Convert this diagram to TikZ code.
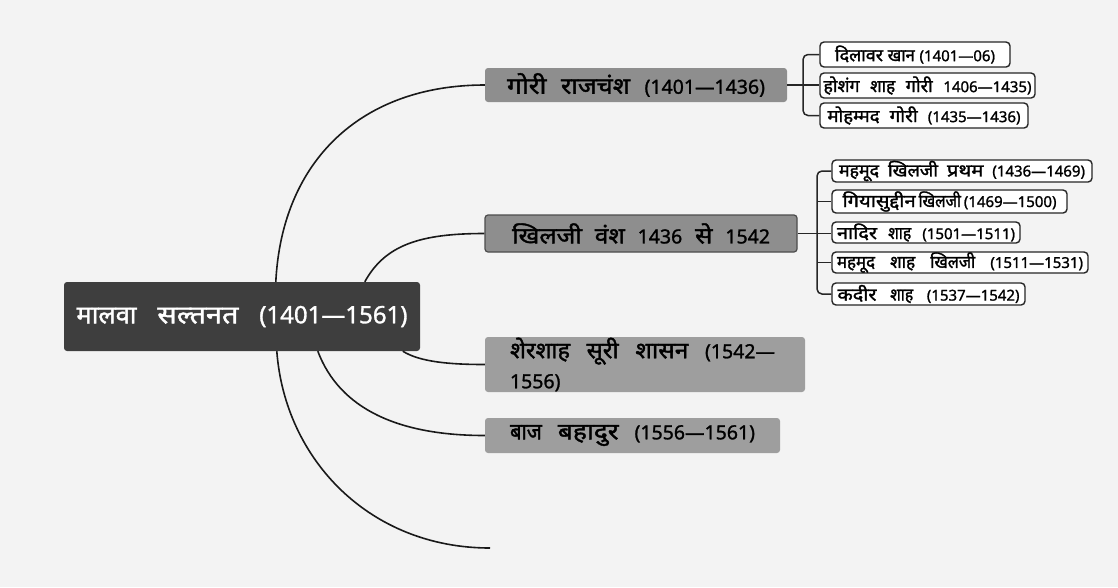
\documentclass[tikz,border=0pt]{standalone}
\usepackage{graphicx}
\usepackage{fontspec}
\setmainfont[Script=Devanagari,FakeBold=1.3]{Noto Sans}
\newfontfamily\dv[Script=Devanagari,FakeBold=1.6]{Noto Sans}
\def\dvs{20}
\newcommand\D[1]{{\fontsize{\dvs}{\dvs}\dv #1}}
\newcommand\DW[2]{%
  \setbox0\hbox{\D{#2}}%
  \pgfmathsetmacro\dwsx{max(0.88,min(1.15,#1/\the\wd0))}%
  \scalebox{\dwsx}[1]{\box0}}
\newcommand\W[2]{\makebox[#1][s]{\spaceskip=0pt\xspaceskip=0pt\relax #2}}
\usetikzlibrary{calc}
\definecolor{bg}{HTML}{F3F3F3}
\definecolor{rootgray}{HTML}{3E3E3E}
\definecolor{brgray}{HTML}{8E8E8E}
\definecolor{shgray}{HTML}{9E9E9E}
\begin{document}
\begin{tikzpicture}[x=1pt,y=-1pt,
  conn/.style={line width=1.6pt, draw=black!90},
  bracket/.style={line width=1.5pt, draw=black!85},
  rootbox/.style={fill=rootgray, rounded corners=3pt, text=white, font=\fontsize{24}{28}\selectfont\def\dvs{25}, inner sep=0pt},
  branch/.style={fill=brgray, rounded corners=3pt, font=\fontsize{19.5}{22}\selectfont\def\dvs{23}, inner sep=0pt, text=black},
  subbox/.style={fill=white, draw=black!85, line width=1.4pt, rounded corners=4pt, font=\fontsize{15}{16}\selectfont\def\dvs{17.5}, inner sep=0pt},
]
\useasboundingbox[fill=bg] (0,0) rectangle (1118,587);

% root
\node[rootbox, minimum width=356pt, minimum height=69pt] (root) at (242,316.5) {\W{331pt}{\DW{60pt}{मालवा} \DW{85pt}{सल्तनत} (1401—1561)}};

% branches
\node[branch, minimum width=302pt, minimum height=34pt] (gori) at (636,85) {\W{258pt}{\DW{40pt}{गोरी} \DW{69pt}{राजचंश} (1401—1436)}};
\node[branch, draw=black!70, line width=1.2pt, minimum width=312pt, minimum height=37pt, font=\fontsize{19.5}{22}\selectfont\def\dvs{22.5}] (khilji) at (641,233.5) {\W{258pt}{\DW{70pt}{खिलजी} \DW{30pt}{वंश} 1436 \DW{20pt}{से} 1542}};
\node[branch, fill=shgray, minimum width=320pt, minimum height=55pt, align=left, text width=320pt, font=\fontsize{19.5}{30}\selectfont\def\dvs{23}] (sher) at (645,364.5) {\hspace*{25pt}\W{265pt}{\DW{60pt}{शेरशाह} \DW{32pt}{सूरी} \DW{53pt}{शासन} (1542—}\\\hspace*{25pt}1556)};
\node[branch, fill=shgray, minimum width=295pt, minimum height=35pt, font=\fontsize{19.5}{22}\selectfont\def\dvs{23}] (baz) at (632.5,435.5) {\W{245pt}{\DW{31pt}{बाज} \DW{68pt}{बहादुर} (1556—1561)}};
\coordinate (free) at (490,548);

% gori subs
\node[subbox, minimum width=190pt, minimum height=25pt] (g1) at (915,54.5) {\W{160pt}{\DW{48pt}{दिलावर} \DW{27pt}{खान} (1401—06)}};
\node[subbox, minimum width=215pt, minimum height=25pt] (g2) at (927.5,85.5) {\W{208pt}{\DW{36pt}{होशंग} \DW{25pt}{शाह} \DW{27pt}{गोरी} 1406—1435)}};
\node[subbox, minimum width=208pt, minimum height=25pt] (g3) at (924,115.5) {\W{193pt}{\DW{52pt}{मोहम्मद} \DW{28pt}{गोरी} (1435—1436)}};

% khilji subs
\node[subbox, minimum width=260pt, minimum height=22pt] (k1) at (962,171) {\W{246pt}{\DW{40pt}{महमूद} \DW{50pt}{खिलजी} \DW{45pt}{प्रथम} (1436—1469)}};
\node[subbox, minimum width=235pt, minimum height=23pt] (k2) at (949.5,201.5) {\W{214pt}{\DW{76pt}{गियासुद्दीन} \DW{40pt}{खिलजी} (1469—1500)}};
\node[subbox, minimum width=188pt, minimum height=21pt] (k3) at (926,232.5) {\W{178pt}{\DW{40pt}{नादिर} \DW{23pt}{शाह} (1501—1511)}};
\node[subbox, minimum width=256pt, minimum height=21pt] (k4) at (960,262.5) {\W{246pt}{\DW{38pt}{महमूद} \DW{25pt}{शाह} \DW{45pt}{खिलजी} (1511—1531)}};
\node[subbox, minimum width=193pt, minimum height=22pt] (k5) at (928.5,294) {\W{182pt}{\DW{39pt}{कदीर} \DW{23pt}{शाह} (1537—1542)}};

% main connectors
\draw[conn] ([xshift=212pt]root.north west) .. controls (282,160) and (362,85) .. (gori.west);
\draw[conn] ([xshift=301pt]root.north west) .. controls (385,245) and (420,233.5) .. (khilji.west);
\draw[conn] ([xshift=339pt]root.south west) .. controls (420,362) and (450,364.5) .. (sher.west);
\draw[conn] ([xshift=254pt]root.south west) .. controls (340,410) and (400,435.5) .. (baz.west);
\draw[conn] ([xshift=213pt]root.south west) .. controls (285,460) and (370,548) .. (free);

% gori bracket
\coordinate (gj) at (803,85);
\draw[bracket] (gori.east) -- (gori.east -| g2.west);
\draw[bracket, rounded corners=5pt] (g1.west) -| (gj) |- (g3.west);

% khilji bracket
\coordinate (kj) at (817,233);
\draw[bracket] (khilji.east) -- (khilji.east -| k3.west);
\draw[bracket, rounded corners=5pt] (k1.west) -| (kj) |- (k5.west);
\draw[bracket] (k2.west -| kj) -- (k2.west);
\draw[bracket] (k4.west -| kj) -- (k4.west);
\end{tikzpicture}
\end{document}
